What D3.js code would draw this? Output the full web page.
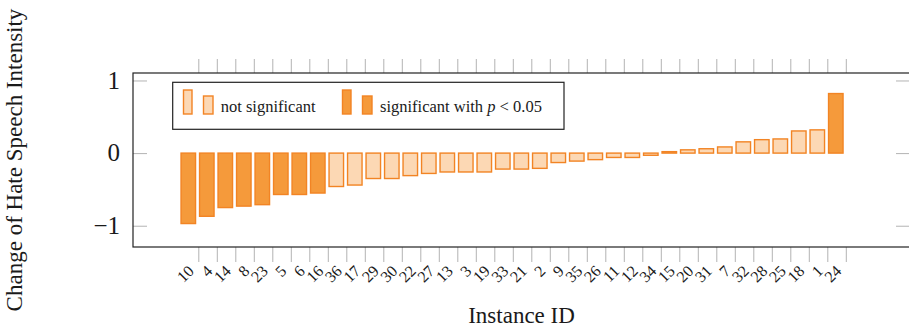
<!DOCTYPE html>
<html lang="en">
<head>
<meta charset="utf-8">
<title>Change of Hate Speech Intensity</title>
<style>
body{
  margin: 0;
  background: #fff;
}
svg text{
  font-family: "Liberation Serif", "Times New Roman", serif;
  fill: #1a1a1a;
}
.tick line{
  stroke: #b3b3b3;
}
.domain{
  display: none;
}
</style>
</head>
<body>
<div id="chart"></div>
<script src="https://d3js.org/d3.v7.min.js"></script>
<script>
// instance ids in plotted order, and the change in intensity
var ids = [10, 4, 14, 8, 23, 5, 6, 16, 36, 17, 29, 30, 22, 27, 13, 3, 19, 33,
  21, 2, 9, 35, 26, 11, 12, 34, 15, 20, 31, 7, 32, 28, 25, 18, 1, 24];
var change = [-0.97, -0.87, -0.75, -0.73, -0.71, -0.57, -0.57, -0.55, -0.46, -0.44,
  -0.35, -0.35, -0.31, -0.28, -0.26, -0.26, -0.26, -0.22,
  -0.22, -0.21, -0.13, -0.11, -0.09, -0.06, -0.06, -0.03, 0.02, 0.045,
  0.06, 0.085, 0.155, 0.185, 0.195, 0.305, 0.32, 0.82];
var significant = [10, 4, 14, 8, 23, 5, 6, 16, 24];
var yTicks = [-1, 0, 1];
var legendLabels = ["not significant", "significant with "];

var data = ids.map((id, i) => ({ id: id, value: change[i], sig: significant.includes(id) }));

var W = 909, H = 328;
var box = { left: 133, right: 910, top: 73, bottom: 247 };

var svg = d3.select("#chart").append("svg")
  .attr("width", W)
  .attr("height", H);

var x = d3.scalePoint()
  .domain(ids)
  .range([198.3, 845.8]);
var y = d3.scaleLinear()
  .domain([-1.293, 1.103])
  .range([box.bottom, box.top]);

var barW = 14.5, barShift = -10;
var lightFill = "#fcd8b4", darkFill = "#f59a3b", stroke = "#f28424";

// x ticks, outside the box top and bottom
svg.append("g")
  .attr("transform", `translate(0, ${box.bottom})`)
  .call(d3.axisBottom(x).tickSize(15).tickFormat(""));
svg.append("g")
  .attr("transform", `translate(0, ${box.top})`)
  .call(d3.axisTop(x).tickSize(14).tickFormat(""));

// y ticks inside on both sides
svg.append("g")
  .attr("transform", `translate(${box.left}, 0)`)
  .call(d3.axisRight(y).tickValues(yTicks).tickSize(14).tickFormat(""));
svg.append("g")
  .attr("transform", `translate(${box.right}, 0)`)
  .call(d3.axisLeft(y).tickValues(yTicks).tickSize(14).tickFormat(""));

// bars
svg.append("g").selectAll("rect").data(data)
  .enter().append("rect")
  .attr("x", (d) => x(d.id) + barShift - barW / 2)
  .attr("y", (d) => y(Math.max(0, d.value)))
  .attr("width", barW)
  .attr("height", (d) => Math.abs(y(d.value) - y(0)))
  .attr("fill", (d) => d.sig ? darkFill : lightFill)
  .attr("stroke", stroke)
  .attr("stroke-width", 1.4);

// frame
svg.append("rect")
  .attr("x", box.left)
  .attr("y", box.top)
  .attr("width", box.right - box.left)
  .attr("height", box.bottom - box.top)
  .attr("fill", "none")
  .attr("stroke", "#222")
  .attr("stroke-width", 1.2);

// y tick labels
svg.append("g").selectAll("text").data(yTicks)
  .enter().append("text")
  .attr("x", 120)
  .attr("y", (d) => y(d))
  .attr("dy", "0.33em")
  .attr("text-anchor", "end")
  .style("font-size", "25px")
  .text((d) => d < 0 ? "\u2212" + Math.abs(d) : d);

// x tick labels, rotated
svg.append("g").selectAll("text").data(ids)
  .enter().append("text")
  .attr("transform", (d) => `translate(${x(d) - 3.5}, 272) rotate(-45)`)
  .attr("text-anchor", "end")
  .style("font-size", "16px")
  .text((d) => d);

// axis titles
svg.append("text")
  .attr("transform", "translate(22, 160) rotate(-90)")
  .attr("text-anchor", "middle")
  .style("font-size", "23px")
  .text("Change of Hate Speech Intensity");
svg.append("text")
  .attr("x", 521.5)
  .attr("y", 323)
  .attr("text-anchor", "middle")
  .style("font-size", "23px")
  .text("Instance ID");

// legend
var lg = svg.append("g");
lg.append("rect")
  .attr("x", 172.7).attr("y", 82.3)
  .attr("width", 564 - 172.7).attr("height", 47)
  .attr("fill", "#fff")
  .attr("stroke", "#222")
  .attr("stroke-width", 1.2);

var entries = [
  { fill: lightFill, x: 183.5, label: legendLabels[0] },
  { fill: darkFill, x: 342.5, label: legendLabels[1] }
];
entries.forEach((e) => {
  lg.append("rect")
    .attr("x", e.x).attr("y", 90)
    .attr("width", 8.5).attr("height", 24)
    .attr("fill", e.fill).attr("stroke", stroke).attr("stroke-width", 1.4);
  lg.append("rect")
    .attr("x", e.x + 20).attr("y", 96)
    .attr("width", 9.5).attr("height", 18)
    .attr("fill", e.fill).attr("stroke", stroke).attr("stroke-width", 1.4);
});
lg.append("text")
  .attr("x", 220.7).attr("y", 112)
  .style("font-size", "16.5px")
  .text(legendLabels[0]);
var t2 = lg.append("text")
  .attr("x", 380).attr("y", 112)
  .style("font-size", "16.5px")
  .text(legendLabels[1]);
t2.append("tspan").style("font-style", "italic").text("p");
t2.append("tspan").text(" < 0.05");
</script>
</body>
</html>
